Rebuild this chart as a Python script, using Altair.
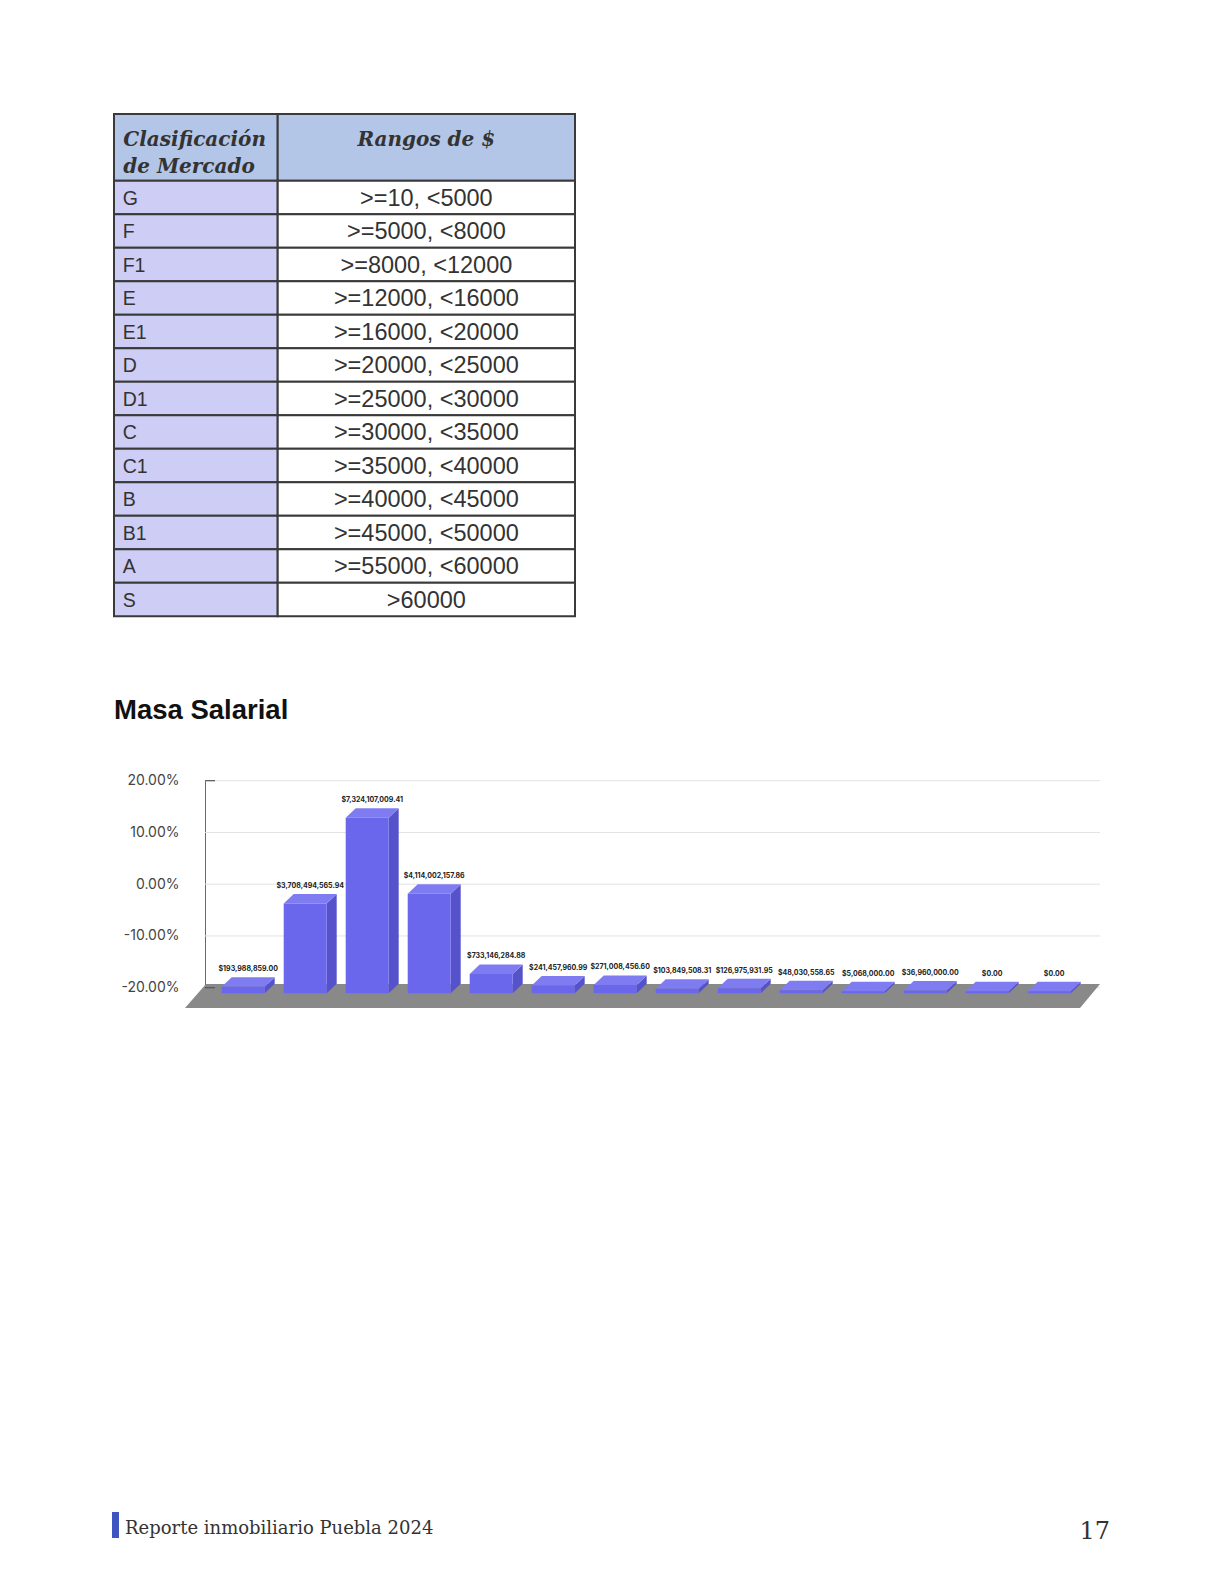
import altair as alt
import pandas as pd

# ---------------- data ----------------
clases = ["G", "F", "F1", "E", "E1", "D", "D1", "C", "C1", "B", "B1", "A", "S"]
rangos = [">=10, <5000", ">=5000, <8000", ">=8000, <12000", ">=12000, <16000",
          ">=16000, <20000", ">=20000, <25000", ">=25000, <30000", ">=30000, <35000",
          ">=35000, <40000", ">=40000, <45000", ">=45000, <50000", ">=55000, <60000",
          ">60000"]
encabezados = ["Clasificación\nde Mercado", "Rangos de $"]

masa = [193988859.00, 3708494565.94, 7324107009.41, 4114002157.86, 733146284.88,
        241457960.99, 271008456.60, 103849508.31, 126975931.95, 48030558.65,
        5068000.00, 36960000.00, 0.00, 0.00]
pct_ticks = [-20, -10, 0, 10, 20]

titulo = "Masa Salarial"
pie = "Reporte inmobiliario Puebla 2024"
pagina = "17"

# ---------------- styles / layout ----------------
W, H = 1208, 1568
N = len(masa)
FRONT, TOP, SIDE, FLOOR = "#6a67ec", "#7f7cf2", "#5552cc", "#898989"
BORDER = "#3a3a3a"
TXT = "#333333"

# table scales (piecewise: header row / data rows; narrow / wide column)
TX = alt.Scale(domain=[0, 1, 2], range=[106, 269.7, 567], nice=False, zero=False)
TY = alt.Scale(domain=[0, 1, len(clases) + 1], range=[106, 172.8, 608.3], nice=False, zero=False)

# bar scales
STEP, PXB = 62.0, 23.7
BX = alt.Scale(domain=[0, N - 1], range=[235.2, 235.2 + STEP * (N - 1)], nice=False, zero=False)
BY = alt.Scale(domain=[0, 8], range=[983.3, 983.3 - 8 * PXB], nice=False, zero=False)
HW = 21.5 / STEP      # half width of the front face
DXU = 10 / STEP       # depth, x
DYU = 9.5 / PXB       # depth, y
BASE = -2 / PXB       # minimum slab thickness

# percent axis scale
PY = alt.Scale(domain=[-20, 20], range=[979.7, 772.7], nice=False, zero=False)

# ---------------- table ----------------
cells = pd.DataFrame(
    [{"c": 0, "r": 0, "k": "h"}, {"c": 1, "r": 0, "k": "h"}]
    + [{"c": 0, "r": i + 1, "k": "k"} for i in range(len(clases))]
    + [{"c": 1, "r": i + 1, "k": "v"} for i in range(len(rangos))]
)
rows = pd.DataFrame({"r": list(range(1, len(clases) + 1)), "clase": clases, "rango": rangos})
heads = pd.DataFrame({"c": [0, 1.5], "r": [0, 0], "t": encabezados})

table_rect = alt.Chart(cells).transform_calculate(
    c1="datum.c + 1", r1="datum.r + 1"
).mark_rect(stroke=BORDER, strokeWidth=2).encode(
    x=alt.X("c:Q", scale=TX, axis=None), x2="c1:Q",
    y=alt.Y("r:Q", scale=TY, axis=None), y2="r1:Q",
    color=alt.Color("k:N", scale=alt.Scale(domain=["h", "k", "v"],
                                           range=["#b4c6e7", "#cdcdf5", "#ffffff"]), legend=None),
)

col1_text = alt.Chart(rows).transform_calculate(c="0").mark_text(
    align="left", baseline="alphabetic", dx=8.7, dy=24, font="Liberation Sans",
    fontSize=19.5, color=TXT
).encode(x=alt.X("c:Q", scale=TX, axis=None), y=alt.Y("r:Q", scale=TY, axis=None), text="clase:N")

col2_text = alt.Chart(rows).transform_calculate(c="1.5").mark_text(
    align="center", baseline="alphabetic", dy=24.8, font="Liberation Sans",
    fontSize=23.5, color=TXT
).encode(x=alt.X("c:Q", scale=TX, axis=None), y=alt.Y("r:Q", scale=TY, axis=None), text="rango:N")

head1 = alt.Chart(heads.iloc[[0]]).mark_text(
    align="left", baseline="alphabetic", dx=9.3, dy=32.2, lineBreak="\n", lineHeight=26.6,
    font="DejaVu Serif", fontStyle="italic", fontWeight="bold", fontSize=20, color=TXT
).encode(x=alt.X("c:Q", scale=TX, axis=None), y=alt.Y("r:Q", scale=TY, axis=None), text="t:N")

head2 = alt.Chart(heads.iloc[[1]]).mark_text(
    align="center", baseline="alphabetic", dy=32.2,
    font="DejaVu Serif", fontStyle="italic", fontWeight="bold", fontSize=20, color=TXT
).encode(x=alt.X("c:Q", scale=TX, axis=None), y=alt.Y("r:Q", scale=TY, axis=None), text="t:N")

# ---------------- title ----------------
title = alt.Chart(pd.DataFrame({"t": [titulo]})).mark_text(
    align="left", baseline="alphabetic", font="Liberation Sans", fontWeight="bold",
    fontSize=27.5, color="#111111"
).encode(x=alt.value(106), y=alt.value(711.3), text="t:N")

# ---------------- bar chart ----------------
pct = pd.DataFrame({"p": pct_ticks})
grid = alt.Chart(pct).mark_rule(color="#e2e2e2", strokeWidth=1).encode(
    y=alt.Y("p:Q", scale=PY, axis=alt.Axis(
        orient="left", values=pct_ticks, offset=-197, ticks=False, grid=False,
        domain=True, domainColor="#6a6a6a", domainWidth=1, title=None,
        labelExpr="(datum.value < 0 ? '-' : '') + format(abs(datum.value), '.2f') + '%'",
        labelFont="Inter", labelFontSize=14, labelColor="#444444", labelPadding=26)),
    x=alt.value(197), x2=alt.value(1092),
)
end_ticks = alt.Chart(pct).transform_filter("abs(datum.p) == 20").mark_rule(
    color="#555555", strokeWidth=1.2
).encode(y=alt.Y("p:Q", scale=PY, axis=None), x=alt.value(197), x2=alt.value(207))

floor_df = pd.DataFrame({"fy": [0.308, -0.705],
                         "fx": [-0.6, -0.939],
                         "fx2": [N - 1 + 0.82, N - 1 + 0.497]})
floor = alt.Chart(floor_df).mark_area(orient="horizontal", color=FLOOR).encode(
    y=alt.Y("fy:Q", scale=BY, axis=None),
    x=alt.X("fx:Q", scale=BX, axis=None), x2="fx2:Q",
)

bars = pd.DataFrame({"i": list(range(N)), "v": masa})
base = alt.Chart(bars).transform_calculate(vb="datum.v / 1e9")

folded = base.transform_calculate(k0="0", k1="1").transform_fold(["k0", "k1"], as_=["kk", "f"])

side = folded.transform_calculate(
    sx=f"datum.i + {HW} + datum.f * {DXU}",
    sy=f"datum.vb + datum.f * {DYU}",
    sy2=f"{BASE} + datum.f * {DYU}",
).mark_area(orient="vertical", color=SIDE).encode(
    x=alt.X("sx:Q", scale=BX, axis=None),
    y=alt.Y("sy:Q", scale=BY, axis=None, stack=False), y2="sy2:Q",
    detail="i:N",
)

top = folded.transform_calculate(
    ty=f"datum.vb + datum.f * {DYU}",
    tx=f"datum.i - {HW} + datum.f * {DXU}",
    tx2=f"datum.i + {HW} + datum.f * {DXU}",
).mark_area(orient="horizontal", color=TOP).encode(
    y=alt.Y("ty:Q", scale=BY, axis=None),
    x=alt.X("tx:Q", scale=BX, axis=None, stack=False), x2="tx2:Q",
    detail="i:N",
)

front = base.transform_calculate(
    xl=f"datum.i - {HW}", xr=f"datum.i + {HW}", b0=f"{BASE}"
).mark_rect(color=FRONT).encode(
    x=alt.X("xl:Q", scale=BX, axis=None), x2="xr:Q",
    y=alt.Y("vb:Q", scale=BY, axis=None), y2="b0:Q",
)

labels = base.transform_calculate(lx=f"datum.i + {DXU / 2}").mark_text(
    dy=-17.5, baseline="middle", align="center", font="Inter", fontSize=7,
    fontWeight="bold", color="#222222"
).encode(
    x=alt.X("lx:Q", scale=BX, axis=None),
    y=alt.Y("vb:Q", scale=BY, axis=None),
    text=alt.Text("v:Q", format="$,.2f"),
)

# ---------------- footer ----------------
foot_bar = alt.Chart(pd.DataFrame({"t": [pie]})).mark_rect(color="#3f55c0").encode(
    x=alt.value(104), x2=alt.value(111), y=alt.value(1504), y2=alt.value(1530))
foot_text = alt.Chart(pd.DataFrame({"t": [pie]})).mark_text(
    align="left", baseline="alphabetic", font="DejaVu Serif", fontSize=18, color=TXT
).encode(x=alt.value(117), y=alt.value(1526.3), text="t:N")
page_no = alt.Chart(pd.DataFrame({"t": [pagina]})).mark_text(
    align="right", baseline="alphabetic", font="DejaVu Serif", fontSize=24, color=TXT
).encode(x=alt.value(1102), y=alt.value(1531.3), text="t:N")

chart = alt.layer(
    table_rect, col1_text, col2_text, head1, head2,
    title,
    grid, floor, side, top, front, end_ticks, labels,
    foot_bar, foot_text, page_no,
).resolve_scale(
    x="independent", y="independent", color="independent"
).properties(
    width=W, height=H, padding=0,
    autosize=alt.AutoSizeParams(type="none"),
    background="white",
).configure_view(strokeWidth=0)

chart.save("out.html", embed_options={"renderer": "svg", "actions": False})
